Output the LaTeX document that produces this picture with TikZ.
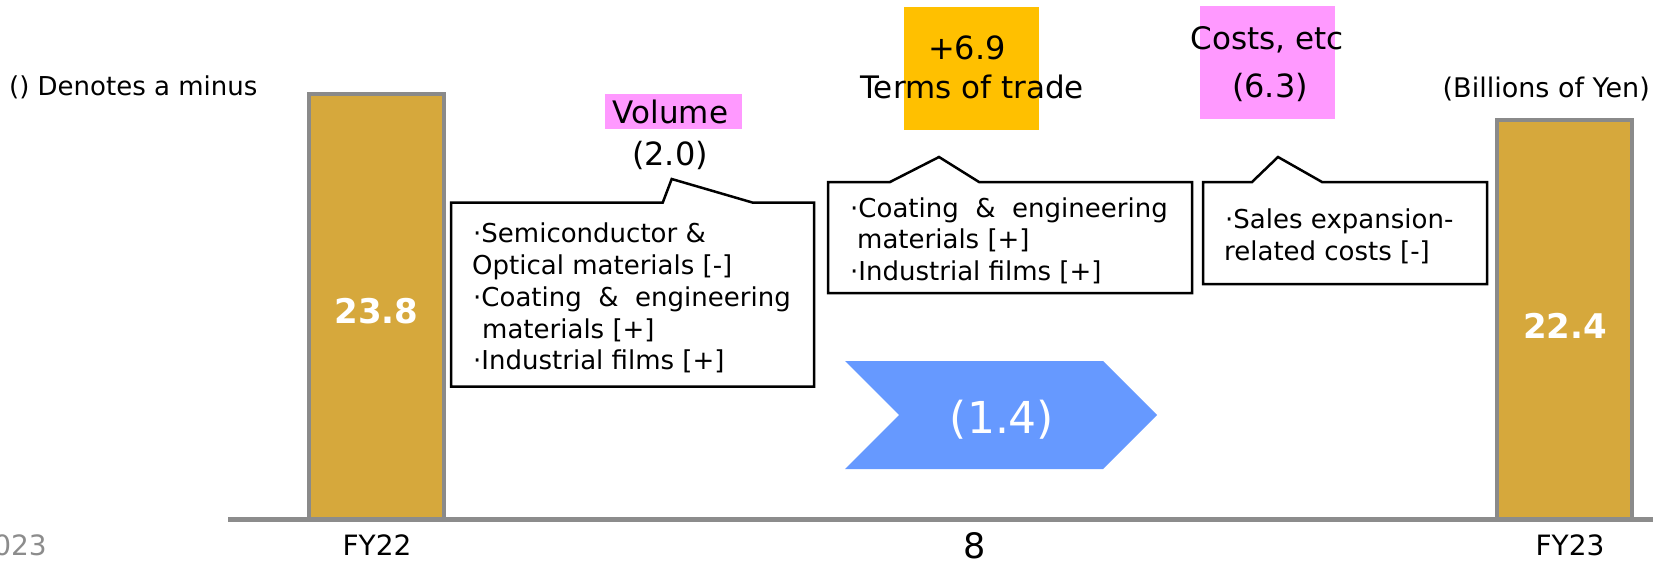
\documentclass[tikz,border=0pt]{standalone}
\usepackage{fontspec}
\setmainfont{DejaVu Sans}
\definecolor{barfill}{HTML}{D6A83C}
\definecolor{barline}{HTML}{8A8A8A}
\definecolor{axisgray}{HTML}{8C8C8C}
\definecolor{pinkbg}{HTML}{FF99FF}
\definecolor{orangebg}{HTML}{FFC000}
\definecolor{chevblue}{HTML}{6699FF}
\begin{document}
\begin{tikzpicture}[x=1pt,y=-1pt,
  fs/.style={font=\fontsize{#1}{#1}\selectfont},
  lbl/.style={inner sep=0pt, anchor=base, fs=31},
  ctxt/.style={inner sep=0pt, anchor=base west, fs=26},
  callout/.style={draw=black, line width=2.5pt, fill=white, line join=miter},
  barbox/.style={draw=barline, line width=4pt, fill=barfill},
]
\useasboundingbox (0,0) rectangle (1653,562);
% axis
\coordinate (axL) at (228,519);
\coordinate (axR) at (1653,519);
% bars
\draw[barbox] (309,94) rectangle (444,519);
\draw[barbox] (1497,120) rectangle (1632,519);
\draw[axisgray, line width=5pt] (axL) -- (axR);
\node[inner sep=0pt, anchor=base, text=white, font=\fontsize{34}{34}\selectfont\bfseries] (v1) at (376.5,323) {23.8};
\node[inner sep=0pt, anchor=base, text=white, font=\fontsize{34}{34}\selectfont\bfseries] (v2) at (1565,338) {22.4};
% highlight boxes
\fill[pinkbg] (605,94) rectangle (742,129);
\fill[orangebg] (904,7) rectangle (1039,130);
\fill[pinkbg] (1200,6) rectangle (1335,119);
% top labels
\node[inner sep=0pt, anchor=base west, fs=26] (note) at (9,95) {() Denotes a minus};
\node[inner sep=0pt, anchor=base east, fs=27] (unit) at (1650,97) {(Billions of Yen)};
\node[lbl] (vol) at (670.5,123) {Volume};
\node[lbl, fs=32] (volv) at (670,165) {(2.0)};
\node[lbl, fs=32] (tov) at (967,59) {+6.9};
\node[lbl] (tot) at (972,98) {Terms of trade};
\node[lbl] (cst) at (1267,49) {Costs, etc};
\node[lbl, fs=32] (cstv) at (1270,97) {(6.3)};
% callout 1
\draw[callout] (451,202.7) -- (662.7,202.7) -- (671.7,179) -- (753,202.7) -- (814,202.7) -- (814,386.7) -- (451,386.7) -- cycle;
\node[ctxt] (a1) at (473,242) {·Semiconductor \&};
\node[ctxt] (a2) at (472,274) {Optical materials [-]};
\node[ctxt] (a3) at (473,306) {·Coating \ \& \ engineering};
\node[ctxt] (a4) at (482,338) {materials [+]};
\node[ctxt] (a5) at (473,369) {·Industrial films [+]};
% callout 2
\draw[callout] (828,182) -- (890,182) -- (939,157) -- (979,182) -- (1192,182) -- (1192,293) -- (828,293) -- cycle;
\node[ctxt] (b1) at (850,217) {·Coating \ \& \ engineering};
\node[ctxt] (b2) at (857,248) {materials [+]};
\node[ctxt] (b3) at (850,280) {·Industrial films [+]};
% callout 3
\draw[callout] (1203,182) -- (1252,182) -- (1278,157) -- (1322,182) -- (1487,182) -- (1487,284) -- (1203,284) -- cycle;
\node[ctxt] (c1) at (1225,228) {·Sales expansion-};
\node[ctxt] (c2) at (1224,260) {related costs [-]};
% chevron
\fill[chevblue] (845,361) -- (1103,361) -- (1157,415) -- (1103,469) -- (845,469) -- (899,415) -- cycle;
\node[inner sep=0pt, anchor=base, text=white, fs=44] (tot14) at (1002,433) {(1.4)};
% bottom labels
\node[inner sep=0pt, anchor=base, fs=28] (fy22) at (377,555) {FY22};
\node[inner sep=0pt, anchor=base, fs=35, text depth=0pt] (pg) at (975,558) {8};
\node[inner sep=0pt, anchor=base, fs=28] (fy23) at (1570,555) {FY23};
\node[inner sep=0pt, anchor=base east, fs=28, text=axisgray] (yr) at (47,555) {2023};
\end{tikzpicture}
\end{document}
